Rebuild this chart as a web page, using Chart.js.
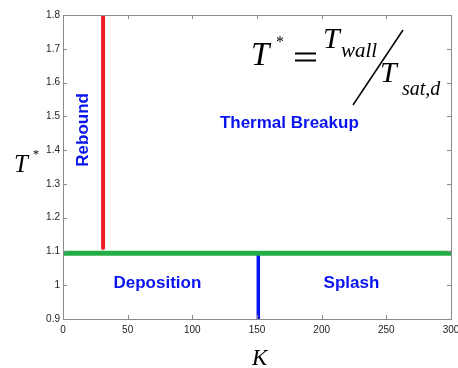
<!DOCTYPE html>
<html>
<head>
<meta charset="utf-8">
<script src="https://cdn.jsdelivr.net/npm/chart.js@4.4.1/dist/chart.umd.min.js"></script>
<style>
  html, body { margin: 0; padding: 0; background: #fff; overflow: hidden; }
  #wrap { width: 458px; height: 368px; position: relative; }
</style>
</head>
<body>
<div id="wrap"><canvas id="regimeChart"></canvas></div>
<script>
// Regime map data (K on x, T* on y)
const xTicks = [0, 50, 100, 150, 200, 250, 300];
const yTicks = [0.9, 1, 1.1, 1.2, 1.3, 1.4, 1.5, 1.6, 1.7, 1.8];

const boundaryK = [0, 300];          // green: T* threshold
const boundaryT = [1.095, 1.095];
const reboundK = [31, 31];           // red: rebound limit
const reboundT = [1.11, 1.8];
const splashK = [151, 151];          // blue: deposition / splash
const splashT = [0.9, 1.09];

const regionNames = ['Thermal Breakup', 'Deposition', 'Splash', 'Rebound'];
const regionK = [175, 73, 223, 15.5];
const regionT = [1.478, 1.007, 1.007, 1.46];

const toPoints = (xs, ys) => xs.map((x, i) => ({ x: x, y: ys[i] }));

// inward ticks on all four sides + box
const frameTicks = {
    id: 'frameTicks',
    afterDatasetsDraw(chart) {
        const { ctx, chartArea: a, scales } = chart;
        ctx.save();
        ctx.strokeStyle = '#8a8a8a';
        ctx.lineWidth = 1;
        ctx.beginPath();
        xTicks.forEach(v => {
            const px = Math.round(scales.x.getPixelForValue(v)) + 0.5;
            ctx.moveTo(px, a.bottom); ctx.lineTo(px, a.bottom - 4);
            ctx.moveTo(px, a.top); ctx.lineTo(px, a.top + 4);
        });
        yTicks.forEach(v => {
            const py = Math.round(scales.y.getPixelForValue(v)) + 0.5;
            ctx.moveTo(a.left, py); ctx.lineTo(a.left + 4, py);
            ctx.moveTo(a.right, py); ctx.lineTo(a.right - 4, py);
        });
        ctx.stroke();
        ctx.strokeRect(Math.round(a.left) + 0.5, Math.round(a.top) + 0.5,
            Math.round(a.right - a.left), Math.round(a.bottom - a.top));
        ctx.restore();
    }
};

// region names, axis titles and the T* definition
const annotations = {
    id: 'annotations',
    afterDraw(chart) {
        const { ctx, scales } = chart;
        ctx.save();
        ctx.fillStyle = '#0a14ee';
        ctx.font = 'bold 17px "Liberation Sans", Arial, sans-serif';
        ctx.textAlign = 'center';
        ctx.textBaseline = 'middle';
        regionNames.forEach((name, i) => {
            const px = scales.x.getPixelForValue(regionK[i]);
            const py = scales.y.getPixelForValue(regionT[i]);
            if (name === 'Rebound') {
                ctx.save();
                ctx.translate(px, py);
                ctx.rotate(-Math.PI / 2);
                ctx.fillText(name, 0, 0);
                ctx.restore();
            } else {
                ctx.fillText(name, px, py);
            }
        });

        ctx.fillStyle = '#000';
        ctx.textAlign = 'left';
        ctx.textBaseline = 'alphabetic';
        const serif = '"Liberation Serif", "Times New Roman", serif';
        // y title T*
        ctx.font = 'italic 25px ' + serif;
        ctx.fillText('T', 14, 172);
        ctx.font = '12px ' + serif;
        ctx.fillText('*', 33, 158);
        // x title K
        ctx.font = 'italic 23px ' + serif;
        ctx.fillText('K', 252, 365);

        // formula T* = T_wall / T_sat,d
        ctx.font = 'italic 33px ' + serif;
        ctx.fillText('T', 251, 65);
        ctx.font = '16px ' + serif;
        ctx.fillText('*', 276, 47);
        ctx.font = 'italic 30px ' + serif;
        ctx.fillText('T', 323, 48);
        ctx.font = 'italic 21px ' + serif;
        ctx.fillText('wall', 341, 57);
        ctx.font = 'italic 30px ' + serif;
        ctx.fillText('T', 380, 82);
        ctx.font = 'italic 20px ' + serif;
        ctx.fillText('sat,d', 402, 95);
        ctx.strokeStyle = '#000';
        ctx.lineWidth = 1.8;
        ctx.beginPath();
        ctx.moveTo(295, 53.5); ctx.lineTo(316, 53.5);   // "=" sign
        ctx.moveTo(295, 60.5); ctx.lineTo(316, 60.5);
        ctx.stroke();
        ctx.lineWidth = 1.5;
        ctx.beginPath();
        ctx.moveTo(353, 105);
        ctx.lineTo(403, 30);
        ctx.stroke();
        ctx.restore();
    }
};

const tickFont = { family: '"Liberation Sans", Arial, sans-serif', size: 10 };

new Chart(document.getElementById('regimeChart').getContext('2d'), {
    type: 'line',
    data: {
        datasets: [
            {
                data: toPoints(boundaryK, boundaryT),
                borderColor: '#23ad47',
                borderWidth: 5,
                pointRadius: 0
            },
            {
                data: toPoints(reboundK, reboundT),
                borderColor: '#ee1c25',
                borderWidth: 4,
                borderCapStyle: 'round',
                pointRadius: 0
            },
            {
                data: toPoints(splashK, splashT),
                borderColor: '#0a14ee',
                borderWidth: 3.5,
                pointRadius: 0
            }
        ]
    },
    options: {
        responsive: true,
        maintainAspectRatio: false,
        animation: false,
        layout: { autoPadding: false, padding: { top: 15, right: 7, left: 0, bottom: 0 } },
        plugins: {
            legend: { display: false },
            tooltip: { enabled: false }
        },
        scales: {
            x: {
                type: 'linear',
                min: 0,
                max: 300,
                afterBuildTicks: s => { s.ticks = xTicks.map(v => ({ value: v })); },
                afterFit: s => {
                    s.height = 49;
                    s.paddingLeft = 0;
                    s.paddingRight = 0;
                },
                grid: { display: false, drawTicks: false },
                border: { display: false },
                ticks: {
                    color: '#222',
                    font: tickFont,
                    padding: 5,
                    maxRotation: 0,
                    callback: v => String(v)
                }
            },
            y: {
                type: 'linear',
                min: 0.9,
                max: 1.8,
                afterBuildTicks: s => { s.ticks = yTicks.map(v => ({ value: v })); },
                afterFit: s => { s.width = 63; },
                grid: { display: false, drawTicks: false },
                border: { display: false },
                ticks: {
                    color: '#222',
                    font: tickFont,
                    padding: 3,
                    callback: v => String(Math.round(v * 10) / 10)
                }
            }
        }
    },
    plugins: [frameTicks, annotations]
});
</script>
</body>
</html>
